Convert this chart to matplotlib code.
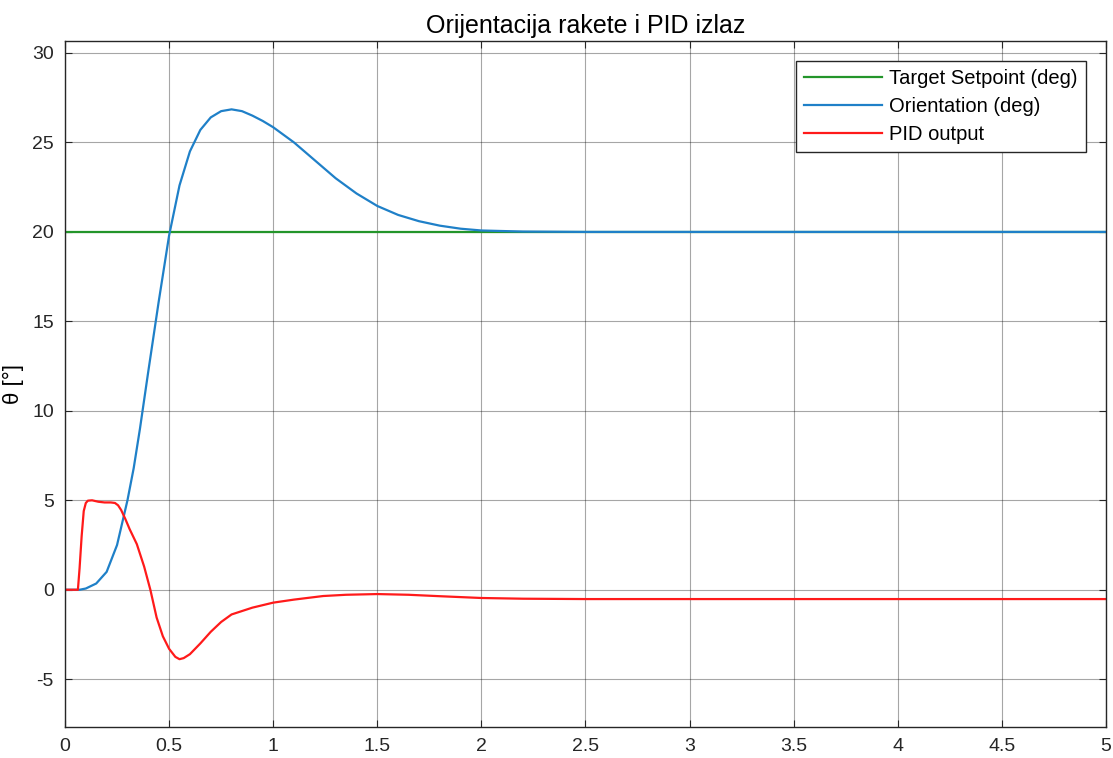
import matplotlib.pyplot as plt
import numpy as np

# values
setpoint_t = [0, 5]
setpoint_deg = [20, 20]

orient_t = [0, 0.07, 0.1, 0.15, 0.2, 0.25, 0.28, 0.3, 0.33, 0.36, 0.4, 0.45, 0.5,
            0.55, 0.6, 0.65, 0.7, 0.75, 0.8, 0.85, 0.9, 0.95, 1.0, 1.1, 1.2, 1.3,
            1.4, 1.5, 1.6, 1.7, 1.8, 1.9, 2.0, 2.2, 2.5, 5.0]
orient_deg = [0, 0, 0.07, 0.35, 1.0, 2.5, 4.0, 5.0, 6.8, 9.0, 12.2, 16.1, 19.8,
              22.6, 24.5, 25.7, 26.4, 26.75, 26.85, 26.75, 26.5, 26.2, 25.85, 25.0,
              24.0, 23.0, 22.15, 21.45, 20.95, 20.6, 20.35, 20.18, 20.08, 20.02, 20.0, 20.0]

pid_t = [0, 0.062, 0.07, 0.08, 0.09, 0.1, 0.11, 0.13, 0.16, 0.19, 0.22, 0.24, 0.255,
         0.27, 0.29, 0.31, 0.345, 0.38, 0.41, 0.44, 0.47, 0.5, 0.53, 0.55, 0.57, 0.6,
         0.65, 0.7, 0.75, 0.8, 0.9, 1.0, 1.1, 1.24, 1.35, 1.5, 1.65, 1.8, 2.0, 2.2,
         2.5, 5.0]
pid_out = [0, 0, 1.2, 3.0, 4.4, 4.85, 4.98, 5.0, 4.92, 4.88, 4.88, 4.85, 4.72,
           4.45, 3.95, 3.4, 2.55, 1.3, 0.0, -1.55, -2.6, -3.3, -3.75, -3.88, -3.82,
           -3.6, -3.0, -2.35, -1.8, -1.38, -1.0, -0.72, -0.55, -0.35, -0.28, -0.24,
           -0.28, -0.36, -0.46, -0.5, -0.52, -0.52]


def main():
    plt.rcParams['font.family'] = ['Liberation Sans', 'DejaVu Sans']
    plt.rcParams['axes.unicode_minus'] = False
    fig = plt.figure(figsize=(11.13, 7.58), dpi=100)
    ax = fig.add_axes([0.0584, 0.0409, 0.9353, 0.905])

    ax.plot(setpoint_t, setpoint_deg, color='#23952a', lw=1.6, label='Target Setpoint (deg)')
    ax.plot(orient_t, orient_deg, color='#1f80c8', lw=1.6, label='Orientation (deg)')
    ax.plot(pid_t, pid_out, color='#ff1a1a', lw=1.6, label='PID output')

    ax.set_xlim(0, 5)
    ax.set_ylim(-7.67, 30.67)
    ax.set_xticks(np.arange(0, 5.01, 0.5))
    ax.set_xticklabels(['0', '0.5', '1', '1.5', '2', '2.5', '3', '3.5', '4', '4.5', '5'])
    ax.set_yticks([-5, 0, 5, 10, 15, 20, 25, 30])
    ax.tick_params(direction='in', top=True, right=True, length=5, labelsize=14,
                   colors='#262626', pad=8)
    ax.grid(True, color='k', alpha=0.35, lw=0.8)
    ax.set_axisbelow(True)
    for s in ax.spines.values():
        s.set_color('#262626')
        s.set_linewidth(1.0)

    ax.set_title('Orijentacija rakete i PID izlaz', fontsize=18, pad=6)
    ax.set_ylabel('θ [°]', fontsize=16, labelpad=6)

    leg = ax.legend(loc='upper right', fontsize=14.5, fancybox=False, framealpha=1,
                    edgecolor='#262626', handlelength=3.9, borderpad=0.4,
                    labelspacing=0.45, handletextpad=0.35, borderaxespad=1.0)
    leg.get_frame().set_linewidth(1.0)

    plt.savefig('out.png', dpi=100)


if __name__ == "__main__":
    main()
